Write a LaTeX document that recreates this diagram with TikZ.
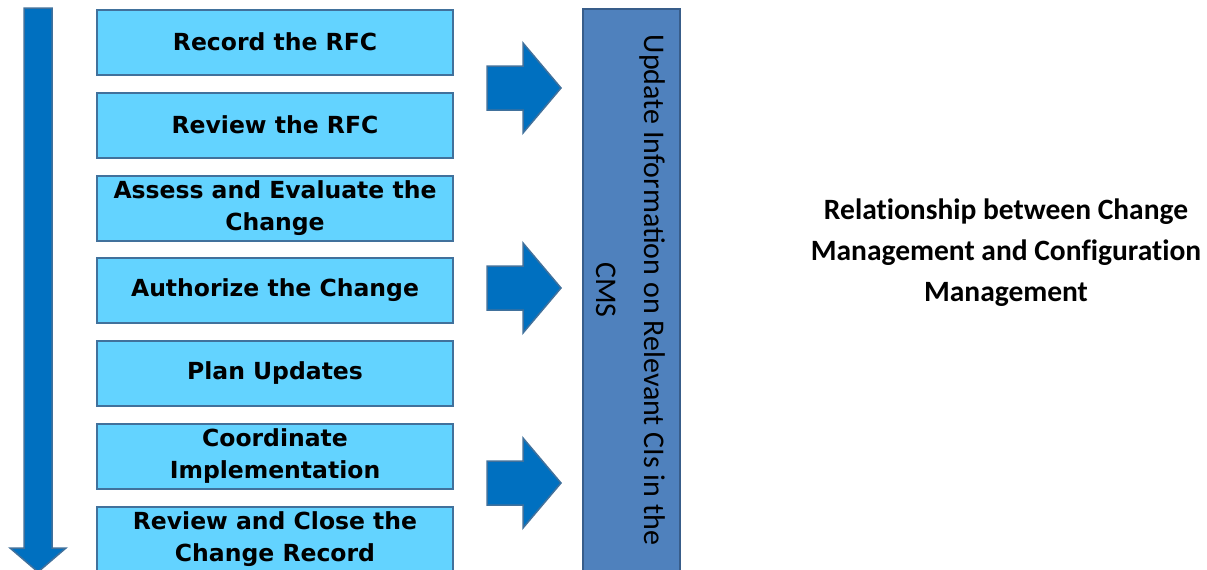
\documentclass[tikz,border=0pt]{standalone}
\usepackage{fontspec}
\setmainfont{Carlito}
\newfontfamily\boxfont{DejaVu Sans}
\usetikzlibrary{calc}
\definecolor{boxfill}{HTML}{63D3FF}
\definecolor{boxline}{HTML}{41719C}
\definecolor{arrfill}{HTML}{0070C0}
\definecolor{tallfill}{HTML}{4F81BD}
\definecolor{tallline}{HTML}{385D8A}
\tikzset{
  stepbox/.style={draw=boxline, line width=2pt, fill=boxfill, minimum width=356pt, minimum height=65pt,
    inner sep=0pt, align=center, font=\boxfont\bfseries\fontsize{23.5}{32}\selectfont},
  bigarrow/.style={draw=boxline, line width=1.5pt, fill=arrfill, line join=miter},
}
\begin{document}
\begin{tikzpicture}[x=1pt,y=-1pt]
\useasboundingbox (0,0) rectangle (1207,570);
% left down arrow
\draw[bigarrow] (24,8) -- (52,8) -- (52,548) -- (66,548) -- (38,572) -- (10,548) -- (24,548) -- cycle;
% step boxes
\node[stepbox] (s1) at (275,42) {Record the RFC};
\node[stepbox] (s2) at (275,125) {Review the RFC};
\node[stepbox] (s3) at (275,208) {Assess and Evaluate the\\Change};
\node[stepbox] (s4) at (275,290.5) {Authorize the Change};
\node[stepbox] (s5) at (275,373) {Plan Updates};
\node[stepbox] (s6) at (275,456) {Coordinate\\Implementation};
\node[stepbox] (s7) at (275,539) {Review and Close the\\Change Record};
% tall box
\node[draw=tallline, line width=2pt, fill=tallfill, minimum width=97pt, minimum height=575pt, anchor=north west, inner sep=0pt] (cms) at (582,8) {};
\node[rotate=-90, align=center, font=\fontsize{30}{48}\selectfont, inner sep=0pt] (cmstext) at (631,290) {Update Information on Relevant CIs in the\\CMS};
% right arrows
\foreach \cy/\nm in {88/a1, 288/a2, 483/a3}{
  \draw[bigarrow] (487,\cy-22) -- (523,\cy-22) -- (523,\cy-45) -- (561,\cy) -- (523,\cy+45) -- (523,\cy+22) -- (487,\cy+22) -- cycle;
}
% title
\node[align=center, font=\addfontfeatures{Ligatures=NoCommon}\bfseries\fontsize{29.5}{41}\selectfont] (title) at (1006,253) {Relationship between Change\\Management and Configuration\\Management};
\end{tikzpicture}
\end{document}
